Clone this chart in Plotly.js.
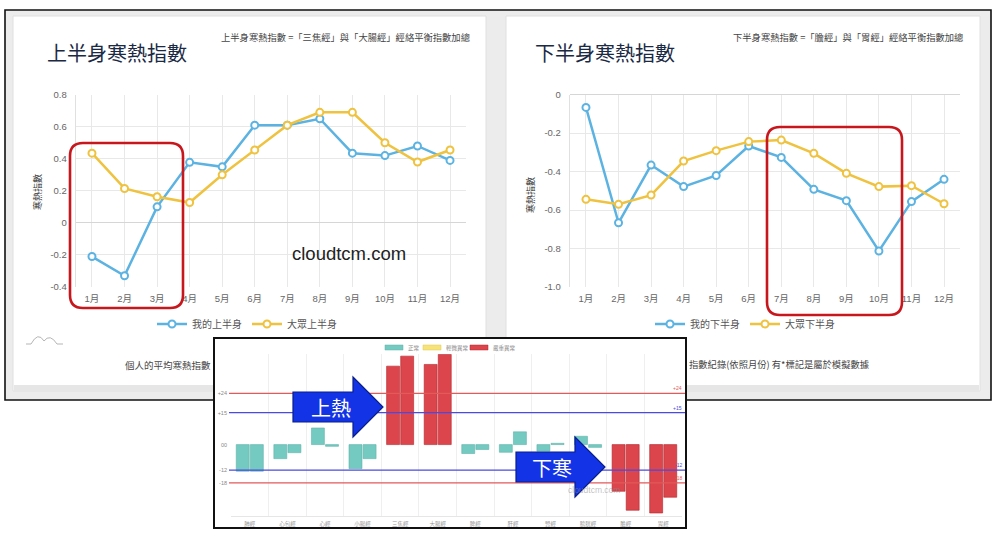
<!DOCTYPE html>
<html><head><meta charset="utf-8">
<script src="https://cdn.plot.ly/plotly-3.0.1.min.js"></script>
<style>html,body{margin:0;padding:0;background:#fff}#chart{width:1000px;height:540px}</style>
</head><body><div id="chart"></div>
<script>
// ---------- data ----------
const months = ['1月','2月','3月','4月','5月','6月','7月','8月','9月','10月','11月','12月'];
const upperMine   = [-0.21,-0.33,0.10,0.378,0.35,0.61,0.61,0.65,0.435,0.42,0.48,0.39];
const upperPublic = [0.435,0.215,0.163,0.127,0.30,0.455,0.61,0.69,0.69,0.50,0.38,0.455];
const lowerMine   = [-0.066,-0.666,-0.366,-0.478,-0.42,-0.267,-0.326,-0.492,-0.551,-0.813,-0.556,-0.44];
const lowerPublic = [-0.544,-0.57,-0.522,-0.345,-0.291,-0.244,-0.236,-0.305,-0.409,-0.478,-0.473,-0.567];
const upperYTicks = [-0.4,-0.2,0,0.2,0.4,0.6,0.8];
const upperYTickText = ['-0.4','-0.2','0','0.2','0.4','0.6','0.8'];
const lowerYTicks = [-1,-0.8,-0.6,-0.4,-0.2,0];
const lowerYTickText = ['-1.0','-0.8','-0.6','-0.4','-0.2','0'];
const seriesNames = ['我的上半身','大眾上半身','我的下半身','大眾下半身'];

const meridians = ['肺經','心包經','心經','小腸經','三焦經','大腸經','脾經','肝經','腎經','膀胱經','膽經','胃經'];
const meridianLeft  = [-12.5,-6.6,7.8,-11.3,36.8,37.6,-4.2,-3.6,-3.1,3.9,-21.9,-32.1];
const meridianRight = [-12.5,-3.8,-0.8,-6.6,41.5,42.3,-2.3,6.0,0.6,-1.3,-30.8,-24.7];
const meridianStatus = ['正常','正常','正常','正常','嚴重異常','嚴重異常','正常','正常','正常','正常','嚴重異常','嚴重異常'];
const statusNames = ['正常','輕微異常','嚴重異常'];
const insetYTicks = [-18,-12,0,15,24];
const insetYTickText = ['-18','-12','00','+15','+24'];
const thresholdValues = [24,15,-12,-18];
const thresholdLabels = ['+24','+15','-12','-18'];
const thresholdKinds = ['outer','inner','inner','outer'];

// ---------- styling ----------
const W = 1000, H = 540;
const px = x => x / W, py = y => 1 - y / H;
const LATIN = '"Liberation Sans", Arial, "Noto Sans CJK TC", sans-serif';
const CJK = '"Noto Sans CJK TC", "Liberation Sans", sans-serif';
const BLUE = '#5cb3e2', YELLOW = '#efc23f';
const statusColor = {'正常':'#74c9c1','輕微異常':'#f6e37a','嚴重異常':'#dc454b'};
const statusLine = {'正常':'#5fb3ab','輕微異常':'#e0c850','嚴重異常':'#b3252c'};
const threshColor = {outer:'#e25a5a', inner:'#4a4ae0'};

function lineTrace(y, name, color, xa, ya, leg) {
  return {type:'scatter', mode:'lines+markers', x: months, y: y, name: name,
    xaxis: xa, yaxis: ya, legend: leg, cliponaxis:false,
    line:{color:color, width:2.5},
    marker:{size:7, color:'#fff', line:{color:color, width:2}}};
}
const traces = [
  lineTrace(upperMine, seriesNames[0], BLUE, 'x', 'y', 'legend'),
  lineTrace(upperPublic, seriesNames[1], YELLOW, 'x', 'y', 'legend'),
  lineTrace(lowerMine, seriesNames[2], BLUE, 'x2', 'y2', 'legend2'),
  lineTrace(lowerPublic, seriesNames[3], YELLOW, 'x2', 'y2', 'legend2'),
  {type:'bar', x: meridians, y: meridianLeft, xaxis:'x3', yaxis:'y3', showlegend:false,
   marker:{color: meridianStatus.map(s=>statusColor[s]), line:{color: meridianStatus.map(s=>statusLine[s]), width:0.6}}},
  {type:'bar', x: meridians, y: meridianRight, xaxis:'x3', yaxis:'y3', showlegend:false,
   marker:{color: meridianStatus.map(s=>statusColor[s]), line:{color: meridianStatus.map(s=>statusLine[s]), width:0.6}}}
];

function rectP(x0,y0,x1,y1,fill,line,lw,layer){
  return {type:'rect', xref:'paper', yref:'paper', x0:px(x0), x1:px(x1), y0:py(y1), y1:py(y0),
    fillcolor:fill, line:{color:line||'rgba(0,0,0,0)', width:lw||0}, layer:layer||'below'};
}
function P(x,y){ return px(x).toFixed(5)+','+py(y).toFixed(5); }
function roundRect(x0,y0,x1,y1,r){
  return 'M'+P(x0+r,y0)+' L'+P(x1-r,y0)+' Q'+P(x1,y0)+' '+P(x1,y0+r)+
    ' L'+P(x1,y1-r)+' Q'+P(x1,y1)+' '+P(x1-r,y1)+' L'+P(x0+r,y1)+' Q'+P(x0,y1)+' '+P(x0,y1-r)+
    ' L'+P(x0,y0+r)+' Q'+P(x0,y0)+' '+P(x0+r,y0)+' Z';
}
function arrowPath(x0,xh,x1,yc,bh,hh){
  return 'M'+P(x0,yc-bh)+' L'+P(xh,yc-bh)+' L'+P(xh,yc-hh)+' L'+P(x1,yc)+' L'+P(xh,yc+hh)+
    ' L'+P(xh,yc+bh)+' L'+P(x0,yc+bh)+' Z';
}

const shapes = [
  rectP(0,0,1000,540,'#ffffff'),
  rectP(5,10,991,400,'#ececec','#111',1.6),
  rectP(13,16,486,391,'#ffffff','#e0e0e0',1),
  rectP(506,16,980,391,'#ffffff','#e0e0e0',1),
  rectP(14,385,485,391,'#e6e6e6'),
  rectP(507,385,979,391,'#e6e6e6'),
  {type:'path', xref:'paper', yref:'paper', layer:'below', line:{color:'#b5b5b5', width:1},
   path:'M'+P(26,344)+' L'+P(31,344)+' Q'+P(38,331)+' '+P(44,341)+' Q'+P(50,333)+' '+P(57,344)+' L'+P(63,344)},
  rectP(214,338,686,528,'#ffffff','#111',2),
  // inset legend swatches
  rectP(385,345,403,350,statusColor['正常'],statusLine['正常'],0.5),
  rectP(423,345,441,350,statusColor['輕微異常'],statusLine['輕微異常'],0.5),
  rectP(470,345,488,350,statusColor['嚴重異常'],statusLine['嚴重異常'],0.5)
];
thresholdValues.forEach((v,i)=>{
  shapes.push({type:'line', xref:'paper', yref:'y3', x0:px(229), x1:px(685), y0:v, y1:v,
    line:{color:threshColor[thresholdKinds[i]], width:1.2}, layer:'above'});
});
shapes.push({type:'path', xref:'paper', yref:'paper', layer:'above', fillcolor:'rgba(0,0,0,0)',
  line:{color:'#c8161d', width:2.6}, path: roundRect(70,143,183,308,13)});
shapes.push({type:'path', xref:'paper', yref:'paper', layer:'above', fillcolor:'rgba(0,0,0,0)',
  line:{color:'#c8161d', width:2.6}, path: roundRect(767,127,902,315,13)});
shapes.push({type:'path', xref:'paper', yref:'paper', layer:'above', fillcolor:'#1333e6',
  line:{color:'#0a1f8a', width:1.2}, path: arrowPath(293,353,383,407,15,30)});
shapes.push({type:'path', xref:'paper', yref:'paper', layer:'above', fillcolor:'#1333e6',
  line:{color:'#0a1f8a', width:1.2}, path: arrowPath(516,575,605,467,15,30)});

function ann(text,x,y,opts){
  return Object.assign({text:text, xref:'paper', yref:'paper', x:px(x), y:py(y), showarrow:false,
    xanchor:'left', yanchor:'middle', font:{family:CJK, size:10, color:'#444'}}, opts||{});
}
const annotations = [
  ann('上半身寒熱指數',45,53,{font:{family:CJK,size:20,color:'#1b2a44'}}),
  ann('下半身寒熱指數',533,53,{font:{family:CJK,size:20,color:'#1b2a44'}}),
  ann('上半身寒熱指數 =「三焦經」與「大腸經」經絡平衡指數加總',472,37,{xanchor:'right',font:{family:CJK,size:9.3,color:'#444'}}),
  ann('下半身寒熱指數 =「膽經」與「胃經」經絡平衡指數加總',965,37,{xanchor:'right',font:{family:CJK,size:9.3,color:'#444'}}),
  ann('寒熱指數',37,192,{xanchor:'center',textangle:-90,font:{family:CJK,size:9,color:'#333'}}),
  ann('寒熱指數',530,195,{xanchor:'center',textangle:-90,font:{family:CJK,size:9,color:'#333'}}),
  ann('cloudtcm.com',349,254,{xanchor:'center',font:{family:LATIN,size:18.5,color:'#222'}}),
  ann('個人的平均寒熱指數',123,365,{font:{family:CJK,size:9.5,color:'#444'}}),
  ann('指數紀錄(依照月份) 有*標記是屬於模擬數據',687,364,{font:{family:CJK,size:9.3,color:'#444'}}),
  ann('上熱',331,407,{xanchor:'center',font:{family:CJK,size:20,color:'#ffffff'}}),
  ann('下寒',552,467,{xanchor:'center',font:{family:CJK,size:20,color:'#ffffff'}}),
  ann('cloudtcm.com',594,490,{xanchor:'center',font:{family:LATIN,size:8.5,color:'rgba(140,140,140,0.55)'}}),
  ann(statusNames[0],406,347.5,{font:{family:CJK,size:5.5,color:'#888'}}),
  ann(statusNames[1],444,347.5,{font:{family:CJK,size:5.5,color:'#888'}}),
  ann(statusNames[2],491,347.5,{font:{family:CJK,size:5.5,color:'#888'}})
];
thresholdValues.forEach((v,i)=>{
  annotations.push({text:thresholdLabels[i], xref:'paper', yref:'y3', x:px(684), y:v, showarrow:false,
    xanchor:'right', yanchor:'bottom', font:{family:LATIN, size:5, color:threshColor[thresholdKinds[i]]}});
});

const tickFont = {family:LATIN, size:9.5, color:'#666'};
function lineX(domain){
  return {domain:domain, type:'category', range:[-0.5,11.5], showgrid:true, gridcolor:'#e8e8e8', gridwidth:1,
    ticks:'', tickfont:tickFont, showline:false, zeroline:false, fixedrange:true, ticklabelstandoff:4};
}
function lineY(domain, range, tv, tt, anchor){
  return {domain:domain, range:range, tickvals:tv, ticktext:tt, showgrid:true, gridcolor:'#e8e8e8',
    zeroline:true, zerolinecolor:'#d6d6d6', zerolinewidth:1, showline:true, linecolor:'#e0e0e0',
    ticks:'', tickfont:tickFont, anchor:anchor, fixedrange:true, ticklabelstandoff:6};
}
const chartY = [py(287), py(94.7)];
const layout = {
  width:W, height:H, margin:{l:0,r:0,t:0,b:0}, paper_bgcolor:'#ffffff', plot_bgcolor:'rgba(0,0,0,0)',
  hovermode:false, barmode:'group', bargap:0.25, bargroupgap:0.08,
  xaxis: Object.assign(lineX([px(75.7), px(466.3)]), {anchor:'y'}),
  yaxis: lineY(chartY, [-0.4,0.8], upperYTicks, upperYTickText, 'x'),
  xaxis2: Object.assign(lineX([px(569.7), px(960.3)]), {anchor:'y2'}),
  yaxis2: lineY(chartY, [-1,0], lowerYTicks, lowerYTickText, 'x2'),
  xaxis3: {domain:[px(231), px(682)], anchor:'y3', type:'category', tickson:'boundaries', showgrid:true,
    gridcolor:'#efefef', ticks:'', showline:true, linecolor:'#e6e6e6', zeroline:false,
    tickfont:{family:CJK, size:5.5, color:'#999'}, fixedrange:true, ticklabelstandoff:2},
  yaxis3: {domain:[py(516), py(354)], anchor:'x3', range:[-33.5,42.5], tickvals:insetYTicks, ticktext:insetYTickText,
    showgrid:false, zeroline:false, showline:false, ticks:'', tickfont:{family:LATIN, size:5.5, color:'#888'},
    fixedrange:true, ticklabelstandoff:3},
  legend: {x:0.247, y:py(324), xanchor:'center', yanchor:'middle', orientation:'h', bgcolor:'rgba(0,0,0,0)',
    font:{family:CJK, size:10, color:'#555'}, itemwidth:30, traceorder:'normal'},
  legend2: {x:0.745, y:py(324), xanchor:'center', yanchor:'middle', orientation:'h', bgcolor:'rgba(0,0,0,0)',
    font:{family:CJK, size:10, color:'#555'}, itemwidth:30, traceorder:'normal'},
  shapes: shapes, annotations: annotations
};
Plotly.newPlot('chart', traces, layout, {staticPlot:true, displayModeBar:false});
</script></body></html>
